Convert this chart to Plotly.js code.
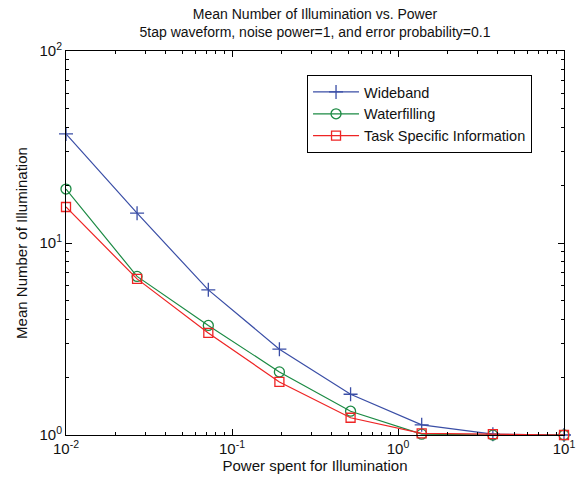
<!DOCTYPE html>
<html>
<head>
<meta charset="utf-8">
<script src="https://cdn.plot.ly/plotly-3.0.1.min.js"></script>
<style>html,body{margin:0;padding:0;background:#fff;}#chart{width:584px;height:482px;}</style>
</head>
<body>
<div id="chart"></div>
<script>
const power = [0.01, 0.0268, 0.0720, 0.193, 0.518, 1.389, 3.728, 10];
const wideband = [37.0, 14.3, 5.7, 2.8, 1.63, 1.13, 1.01, 1.0];
const waterfilling = [19.1, 6.7, 3.72, 2.13, 1.33, 1.01, 1.0, 1.0];
const taskSpecific = [15.4, 6.5, 3.4, 1.89, 1.23, 1.02, 1.01, 1.0];
const seriesNames = ["Wideband", "Waterfilling", "Task Specific Information"];
const xTickVals = [0.01, 0.1, 1, 10];
const xTickText = ["10<sup>-2</sup>", "10<sup>-1</sup>", "10<sup>0</sup>", "10<sup>1</sup>"];
const yTickVals = [1, 10, 100];
const yTickText = ["10<sup>0</sup>", "10<sup>1</sup>", "10<sup>2</sup>"];

const font = "Liberation Sans, Arial, Helvetica, sans-serif";
const traces = [
  {x: power, y: wideband, name: seriesNames[0], mode: "lines+markers", cliponaxis: false,
   line: {color: "#3a4ea6", width: 1.2},
   marker: {symbol: "cross-thin-open", size: 10, line: {color: "#3a4ea6", width: 1.3}}},
  {x: power, y: waterfilling, name: seriesNames[1], mode: "lines+markers", cliponaxis: false,
   line: {color: "#1b8a43", width: 1.2},
   marker: {symbol: "circle-open", size: 10, color: "#1b8a43", line: {color: "#1b8a43", width: 1.3}}},
  {x: power, y: taskSpecific, name: seriesNames[2], mode: "lines+markers", cliponaxis: false,
   line: {color: "#ee2424", width: 1.2},
   marker: {symbol: "square-open", size: 9, color: "#ee2424", line: {color: "#ee2424", width: 1.3}}}
];

const axisCommon = {
  type: "log", tickmode: "array",
  showgrid: false, zeroline: false,
  showline: true, linecolor: "#000", linewidth: 1, mirror: "ticks",
  ticks: "inside", ticklen: 6, tickcolor: "#000", tickwidth: 1,
  tickfont: {family: font, size: 15, color: "#111"},
  minor: {ticks: "inside", ticklen: 3, tickcolor: "#000", dtick: "D1", showgrid: false}
};

const layout = {
  width: 584, height: 482,
  margin: {l: 66, r: 20, t: 51, b: 47},
  paper_bgcolor: "#fff", plot_bgcolor: "#fff",
  showlegend: true,
  title: {text: "Mean Number of Illumination vs. Power<br>5tap waveform, noise power=1, and error probability=0.1",
          font: {family: font, size: 14, color: "#111"},
          x: 315/584, xanchor: "center", xref: "container", y: 1 - 19/482, yanchor: "top", yref: "container"},
  xaxis: Object.assign({}, axisCommon, {
    range: [-2, 1], tickvals: xTickVals, ticktext: xTickText,
    title: {text: "Power spent for Illumination", font: {family: font, size: 15, color: "#111"}, standoff: 2}
  }),
  yaxis: Object.assign({}, axisCommon, {
    range: [0, 2], tickvals: yTickVals, ticktext: yTickText,
    title: {text: "Mean Number of Illumination", font: {family: font, size: 15, color: "#111"}, standoff: 8}
  }),
  legend: {x: 0.484, y: 0.9375, xanchor: "left", yanchor: "top",
           bgcolor: "#fff", bordercolor: "#000", borderwidth: 1, itemwidth: 46,
           font: {family: font, size: 14.5, color: "#111"}, tracegroupgap: 0}
};

Plotly.newPlot("chart", traces, layout, {displayModeBar: false, staticPlot: true});
</script>
</body>
</html>
